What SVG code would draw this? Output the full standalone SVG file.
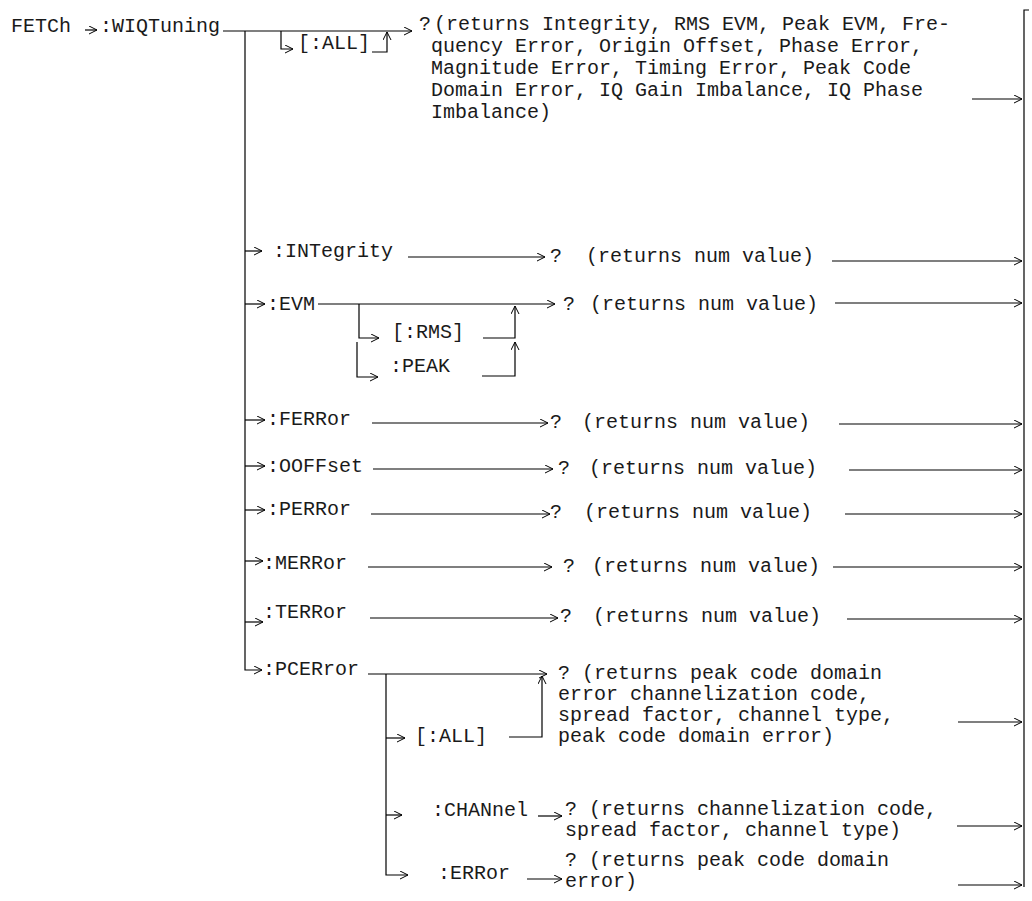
<svg xmlns="http://www.w3.org/2000/svg" width="1032" height="901" viewBox="0 0 1032 901">
<defs>
<marker id="ah" markerWidth="10" markerHeight="10" refX="8" refY="4" orient="auto" markerUnits="userSpaceOnUse"><path d="M0,0 L8,4 L0,8" fill="none" stroke="#000" stroke-width="1"/></marker>
<style>
text{font-family:"Liberation Mono","Courier New",monospace;font-size:20px;fill:#1a1a1a}
.c path,.c line{fill:none;stroke:#000;stroke-width:1.2}
.a{marker-end:url(#ah)}
</style>
</defs>
<rect width="1032" height="901" fill="#fff"/>
<g id="connectors" class="c">
<line class="a" x1="85" y1="30" x2="97" y2="30"/>
<line class="a" x1="223" y1="31" x2="412" y2="31"/>
<path class="a" d="M245,31 V670 H262"/>
<path class="a" d="M281,31 V49 H293"/>
<path class="a" d="M372,52 H387 V32"/>
<line class="a" x1="972" y1="99" x2="1022" y2="99"/>
<path d="M1024,887 V10 H1029"/>
<line class="a" x1="245" y1="251" x2="262" y2="251"/>
<line class="a" x1="408" y1="257" x2="545" y2="257"/>
<line class="a" x1="832" y1="261" x2="1022" y2="261"/>
<line class="a" x1="245" y1="304" x2="265" y2="304"/>
<line class="a" x1="318" y1="304" x2="555" y2="304"/>
<path class="a" d="M359,304 V338 H379"/>
<path class="a" d="M357,342 V377 H378"/>
<path class="a" d="M483,338 H515 V306"/>
<path class="a" d="M482,376 H515 V342"/>
<line class="a" x1="835" y1="303" x2="1022" y2="303"/>
<line class="a" x1="245" y1="420" x2="265" y2="420"/>
<line class="a" x1="372" y1="423" x2="548" y2="423"/>
<line class="a" x1="839" y1="424" x2="1022" y2="424"/>
<line class="a" x1="245" y1="466" x2="265" y2="466"/>
<line class="a" x1="373" y1="469" x2="553" y2="469"/>
<line class="a" x1="849" y1="470" x2="1022" y2="470"/>
<line class="a" x1="245" y1="510" x2="265" y2="510"/>
<line class="a" x1="371" y1="514" x2="550" y2="514"/>
<line class="a" x1="845" y1="514" x2="1022" y2="514"/>
<line class="a" x1="245" y1="561" x2="263" y2="561"/>
<line class="a" x1="368" y1="567" x2="552" y2="567"/>
<line class="a" x1="833" y1="567" x2="1022" y2="567"/>
<line class="a" x1="245" y1="622" x2="263" y2="622"/>
<line class="a" x1="370" y1="618" x2="558" y2="618"/>
<line class="a" x1="847" y1="619" x2="1022" y2="619"/>
<line class="a" x1="368" y1="674" x2="547" y2="674"/>
<path class="a" d="M386,674 V875 H408"/>
<line class="a" x1="386" y1="738" x2="405" y2="738"/>
<path class="a" d="M509,737 H542 V676"/>
<line class="a" x1="958" y1="722" x2="1022" y2="722"/>
<line class="a" x1="386" y1="815" x2="402" y2="815"/>
<line class="a" x1="538" y1="816" x2="562" y2="816"/>
<line class="a" x1="957" y1="826" x2="1022" y2="826"/>
<line class="a" x1="527" y1="879" x2="562" y2="879"/>
<line class="a" x1="958" y1="885" x2="1022" y2="885"/>
</g>
<g id="fetch"><text x="11" y="32">FETCh</text></g>
<g id="wiqtuning"><text x="100" y="32">:WIQTuning</text></g>
<g id="all-top"><text x="298" y="49">[:ALL]</text></g>
<g id="result-all">
<text x="419" y="30">?</text>
<text x="434" y="30">(returns Integrity, RMS EVM, Peak EVM, Fre-</text>
<text x="431" y="52">quency Error, Origin Offset, Phase Error,</text>
<text x="431" y="74">Magnitude Error, Timing Error, Peak Code</text>
<text x="431" y="96">Domain Error, IQ Gain Imbalance, IQ Phase</text>
<text x="431" y="118">Imbalance)</text>
</g>
<g id="integrity"><text x="273" y="257">:INTegrity</text><text x="550" y="262">?</text><text x="586" y="262">(returns num value)</text></g>
<g id="evm"><text x="267" y="310">:EVM</text><text x="563" y="310">?</text><text x="590" y="310">(returns num value)</text></g>
<g id="evm-rms"><text x="392" y="338">[:RMS]</text></g>
<g id="evm-peak"><text x="390" y="372">:PEAK</text></g>
<g id="ferror"><text x="267" y="425">:FERRor</text><text x="550" y="428">?</text><text x="582" y="428">(returns num value)</text></g>
<g id="ooffset"><text x="267" y="472">:OOFFset</text><text x="558" y="474">?</text><text x="589" y="474">(returns num value)</text></g>
<g id="perror"><text x="267" y="515">:PERRor</text><text x="550" y="518">?</text><text x="584" y="518">(returns num value)</text></g>
<g id="merror"><text x="263" y="569">:MERRor</text><text x="563" y="572">?</text><text x="592" y="572">(returns num value)</text></g>
<g id="terror"><text x="263" y="618">:TERRor</text><text x="560" y="622">?</text><text x="593" y="622">(returns num value)</text></g>
<g id="pcerror"><text x="263" y="675">:PCERror</text></g>
<g id="pcerror-all">
<text x="415" y="742">[:ALL]</text>
<text x="558" y="679">? (returns peak code domain</text>
<text x="558" y="700">error channelization code,</text>
<text x="558" y="721">spread factor, channel type,</text>
<text x="558" y="742">peak code domain error)</text>
</g>
<g id="pcerror-channel">
<text x="432" y="816">:CHANnel</text>
<text x="565" y="815">? (returns channelization code,</text>
<text x="565" y="836">spread factor, channel type)</text>
</g>
<g id="pcerror-error">
<text x="438" y="879">:ERRor</text>
<text x="565" y="866">? (returns peak code domain</text>
<text x="565" y="887">error)</text>
</g>
</svg>
